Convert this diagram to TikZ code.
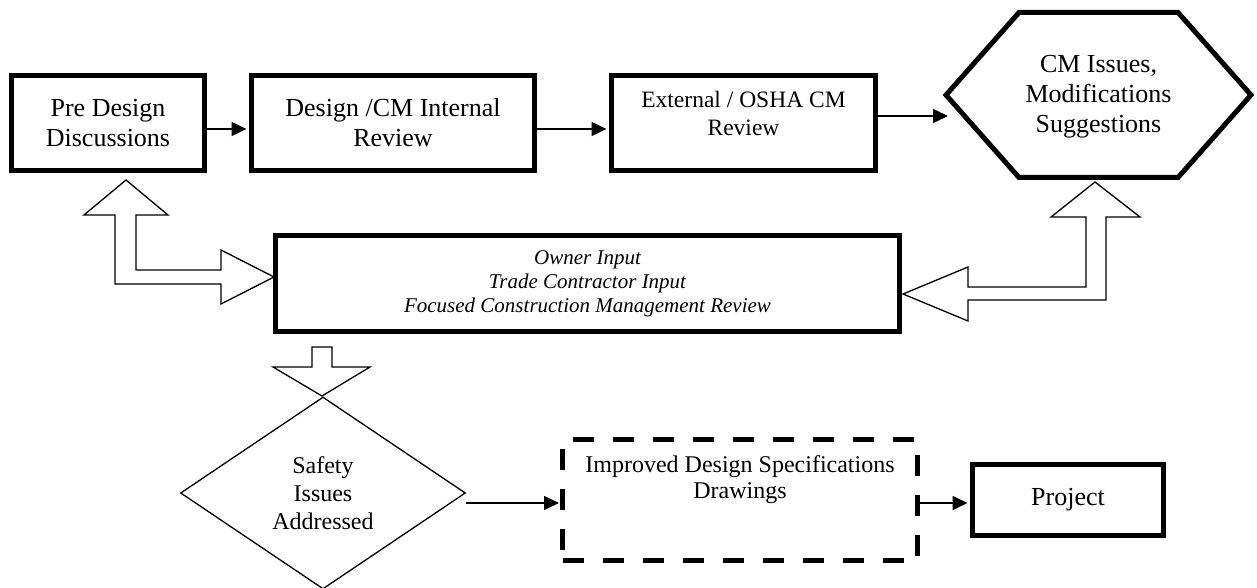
\documentclass[tikz,border=0pt]{standalone}
\usepackage{fontspec}
\setmainfont{Liberation Serif}
\usetikzlibrary{arrows.meta,calc,shapes.geometric}

\begin{document}
\begin{tikzpicture}[x=1pt,y=-1pt,%%
  boxStyle/.style={draw,line width=5pt,inner sep=2pt,align=center,%%
    font=\fontsize{26}{30}\selectfont},%%
  dashBoxStyle/.style={boxStyle,dash pattern=on 21pt off 19pt,%%
    font=\fontsize{24}{26}\selectfont},%%
  arrowStyle/.style={-{Triangle[length=15pt,width=14pt]},line width=1.6pt},%%
  blockStyle/.style={line width=1.3pt,fill=white,line join=miter},%%
  lineStyle/.style={line width=5pt,line join=miter}%%
]
%%
\useasboundingbox (0,0) rectangle (1257,588);
%%
%% Top row of boxes.
\node[boxStyle,minimum width=193pt,minimum height=95pt] (preDesign)
  at (108,123) {Pre Design\\Discussions};
\node[boxStyle,minimum width=283pt,minimum height=95pt] (internalReview)
  at (393,123) {Design /CM Internal\\Review};
\node[boxStyle,minimum width=264pt,minimum height=95pt,text depth=20pt,%%
  font=\fontsize{23.5}{28}\selectfont] (externalReview)
  at (743.5,123) {External / OSHA CM\\Review};
%%
%% The hexagon for the issues.
\node[align=center,font=\fontsize{26}{30}\selectfont] (cmIssues)
  at (1098.5,97) {CM Issues,\\Modifications\\Suggestions};
\coordinate (hexLeft) at (946,95);
\coordinate (hexRight) at (1251,95);
\coordinate (hexIn) at (948,116);
\draw[lineStyle] (hexLeft) -- (1019,12.5) -- (1178,12.5) -- (hexRight)
  -- (1178,177.5) -- (1019,177.5) -- cycle;
%%
%% The input box in the middle.
\node[boxStyle,minimum width=624pt,minimum height=96pt,%%
  font=\fontsize{21}{24}\selectfont\itshape] (inputBox)
  at (587.5,283.5) {Owner Input\\Trade Contractor Input\\Focused Construction Management Review};
%%
%% Bottom row.
\node[draw,diamond,line width=1.3pt,inner sep=0pt,aspect=1.48,%%
  minimum width=285pt,minimum height=192pt,align=center,%%
  font=\fontsize{24}{28}\selectfont] (safety)
  at (323,493) {Safety\\Issues\\Addressed};
\node[dashBoxStyle,minimum width=355pt,minimum height=121pt,text depth=45pt]
  (improved) at (740,500) {Improved Design Specifications\\Drawings};
\node[boxStyle,minimum width=191pt,minimum height=71pt] (project)
  at (1068,500) {Project};
%%
%% Connectors.
\draw[arrowStyle,shorten >=2.5pt] ($(preDesign.east)+(0,6)$)
  -- ($(internalReview.west)+(0,6)$);
\draw[arrowStyle,shorten >=2.5pt] ($(internalReview.east)+(0,6)$)
  -- ($(externalReview.west)+(0,6)$);
\draw[arrowStyle] (externalReview.east |- hexIn) -- (hexIn);
\draw[arrowStyle,shorten >=1pt] ($(safety.east)+(0,10)$)
  -- ($(improved.west)+(0,3)$);
\draw[arrowStyle,shorten >=2.5pt] ($(improved.east)+(0,3)$)
  -- ($(project.west)+(0,3)$);
%%
%% Hollow block arrows.  Left one: up to Pre Design and right to the input box.
\draw[blockStyle] (126,180) -- (168,215) -- (136,215) -- (136,270)
  -- (221,270) -- (221,250) -- (274,277) -- (221,304) -- (221,284)
  -- (115,284) -- (115,215) -- (84,215) -- cycle;
%% Right one: up to the hexagon and left to the input box.
\draw[blockStyle] (1095,182) -- (1140,217) -- (1106,217) -- (1106,300)
  -- (968,300) -- (968,321) -- (903,294) -- (968,267) -- (968,287)
  -- (1086,287) -- (1086,217) -- (1051,217) -- cycle;
%% Down from the input box to the diamond.
\draw[blockStyle] (312,347) -- (332,347) -- (332,367) -- (370,367)
  -- (322,396) -- (273,367) -- (312,367) -- cycle;
\end{tikzpicture}
\end{document}
